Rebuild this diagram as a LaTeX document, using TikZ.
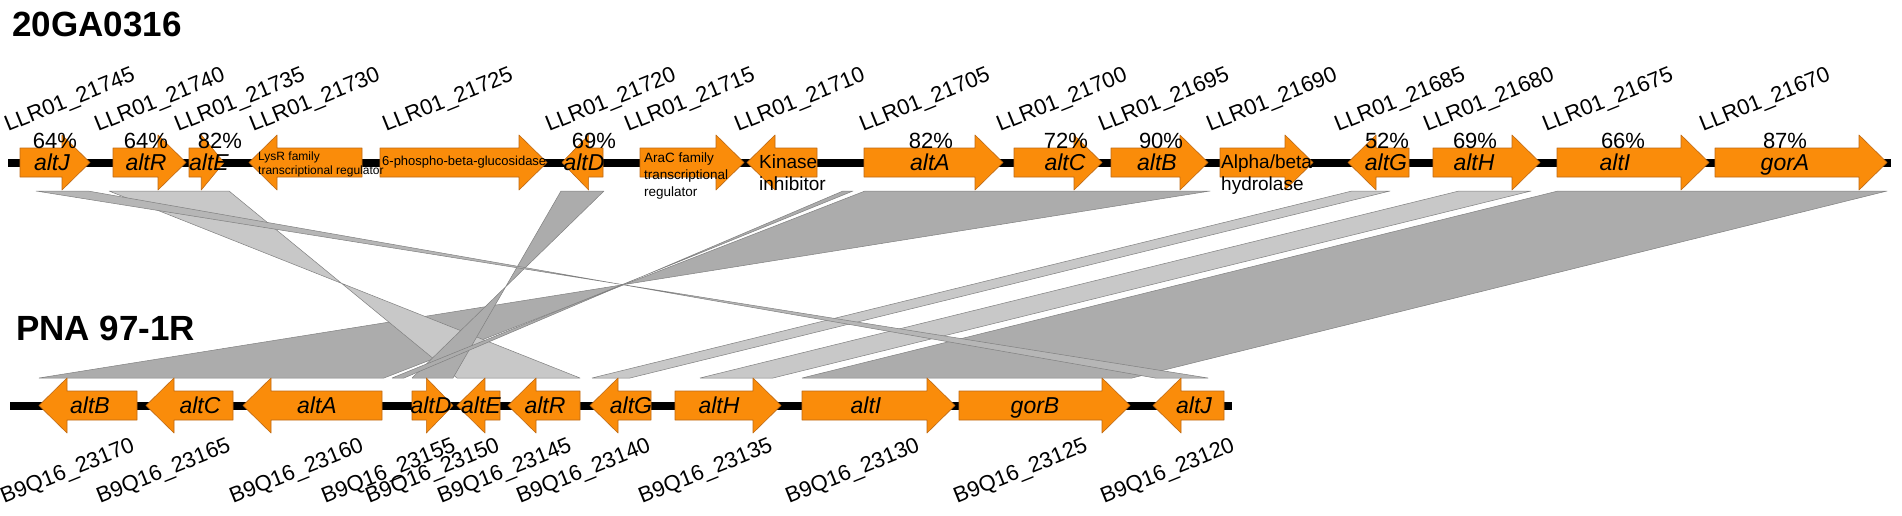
\documentclass[tikz,border=0pt]{standalone}
\usepackage{fontspec}
\setmainfont{Liberation Sans}
\definecolor{geneorange}{RGB}{250,140,10}
\definecolor{geneedge}{RGB}{190,105,20}
\definecolor{banddark}{RGB}{172,172,172}
\definecolor{bandmid}{RGB}{182,182,182}
\definecolor{bandlight}{RGB}{200,200,200}
% gene arrow: tail x, tip x, centre y
\newcommand{\gene}[3]{%
  \pgfmathsetmacro{\hd}{sign(#2-#1)*min(28,0.65*abs(#2-#1))}
  \pgfmathsetmacro{\hx}{#2-\hd}
  \filldraw[genebody] (#1,#3-14.5) -- (\hx,#3-14.5) -- (\hx,#3-27.5) -- (#2,#3)
    -- (\hx,#3+27.5) -- (\hx,#3+14.5) -- (#1,#3+14.5) -- cycle;}
\begin{document}
\begin{tikzpicture}[x=1pt,y=1pt,line join=round,
  genebody/.style={fill=geneorange,draw=geneedge,line width=0.6pt},
  band/.style={draw=gray,line width=0.5pt},
  lbl/.style={font=\fontsize{22}{26}\selectfont,inner sep=0,rotate=22,anchor=base west},
  pct/.style={font=\fontsize{22}{26}\selectfont,inner sep=0,anchor=base},
  gname/.style={font=\fontsize{23}{27}\selectfont\itshape,inner sep=0,anchor=base},
  title/.style={font=\fontsize{35}{40}\selectfont\bfseries,inner sep=0,anchor=base west},
  note/.style={inner sep=0,align=left}]
\def\ytop{-162.5}\def\ybot{-405.5}\def\yA{-191}\def\yB{-378}
\fill[white] (0,0) rectangle (1902,-516);
\useasboundingbox (0,0) rectangle (1902,-516);
% homology bands
\foreach \a/\b/\c/\d/\col in {865/1210/39/384/banddark, 1558/1887/1132/802/banddark,
    1352/1390/630/592/bandlight, 1459/1531/773/700/bandlight, 109/229/457/580/bandlight,
    561/604/412/453/banddark, 843/853/392/404/banddark, 36/88/1155/1208/bandmid}
  \filldraw[band,fill=\col] (\a,\yA) -- (\b,\yA) -- (\c,\yB) -- (\d,\yB) -- cycle;
% titles
\node[title] (g1) at (12,-37) {20GA0316};
\node[title] (g2) at (16,-340) {PNA 97-1R};
% top row
\draw[line width=8pt] (8,\ytop) -- (1891,\ytop);
\foreach \s/\e/\lx/\id in {20/90/10/21745, 113/186/100/21740, 189/224/180/21735,
    362/249/255/21730, 380/547/388/21725, 603/562/551/21720, 640/744/630/21715,
    817/747/740/21710, 864/1003/865/21705, 1014/1102/1002/21700, 1111/1208/1104/21695,
    1220/1313/1212/21690, 1409/1348/1340/21685, 1433/1540/1429/21680,
    1557/1709/1548/21675, 1715/1887/1705/21670}{
  \gene{\s}{\e}{\ytop}
  \node[lbl] (t\id) at (\lx-2,-132) {LLR01\_\id};
}
\foreach \nx/\px/\n/\p in {52/55/altJ/64, 146/146/altR/64, 209/220/altE/82,
    584/594/altD/69, 930/931/altA/82, 1065/1066/altC/72, 1157/1161/altB/90,
    1386/1387/altG/52, 1474/1475/altH/69, 1615/1623/altI/66, 1785/1785/gorA/87}{
  \node[gname] (n\n) at (\nx,\ytop-8) {\n};
  \node[pct] (p\n) at (\px,-148) {\p\%};
}
\node[note,anchor=north west,font=\fontsize{12}{14}\selectfont] (lysr) at (258,-152)
  {LysR family\\transcriptional regulator};
\node[note,anchor=west,font=\fontsize{13}{15}\selectfont] (bgl) at (382,-162)
  {6-phospho-beta-glucosidase};
\node[note,anchor=north west,font=\fontsize{13.5}{17}\selectfont] (arac) at (644,-153)
  {AraC family\\transcriptional\\regulator};
\node[note,anchor=north west,font=\fontsize{19}{22}\selectfont] (kin) at (759,-155)
  {Kinase\\inhibitor};
\node[note,anchor=north west,font=\fontsize{19}{22}\selectfont] (hyd) at (1221,-155)
  {Alpha/beta\\hydrolase};
% bottom row
\draw[line width=8pt] (10,\ybot) -- (1232,\ybot);
\foreach \s/\e/\lx/\id/\nx/\n in {137/39/6/23170/90/altB, 233/146/102/23165/200/altC,
    382/243/235/23160/317/altA, 412/453/327/23155/431/altD, 500/457/371/23150/481/altE,
    580/508/443/23145/545/altR, 651/590/522/23140/631/altG, 675/781/644/23135/719/altH,
    802/955/791/23130/866/altI, 959/1130/959/23125/1035/gorB,
    1224/1153/1106/23120/1194/altJ}{
  \gene{\s}{\e}{\ybot}
  \node[gname] (m\n) at (\nx,\ybot-8) {\n};
  \node[lbl] (b\id) at (\lx-2,-504) {B9Q16\_\id};
}
\end{tikzpicture}
\end{document}
